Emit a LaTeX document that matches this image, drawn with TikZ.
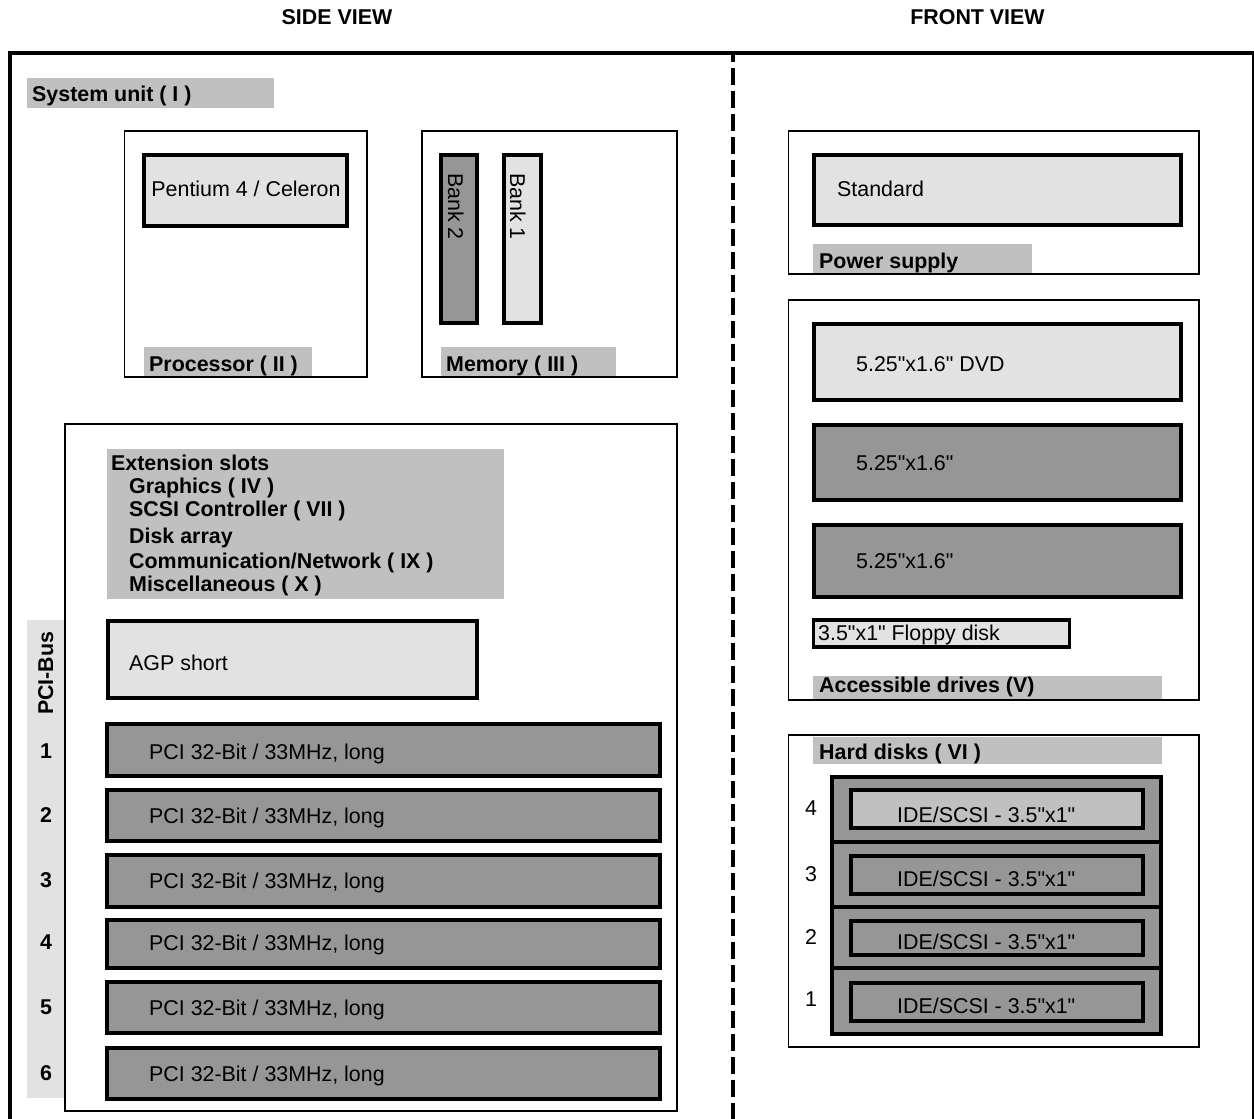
\documentclass[tikz,border=0pt]{standalone}
\usepackage{fontspec}
\setmainfont{Liberation Sans}
\newfontfamily\arialf{Liberation Sans}
\usetikzlibrary{fit}
\definecolor{lgray}{RGB}{226,226,226}
\definecolor{mgray}{RGB}{150,150,150}
\definecolor{lblgray}{RGB}{192,192,192}
\begin{document}
\begin{tikzpicture}[x=1pt,y=-1pt,
  thinbox/.style={draw=black, line width=1.7pt, inner sep=0pt},
  thickbox/.style={draw=black, line width=4.3pt, inner sep=0pt},
  lbl/.style={fill=lblgray, inner sep=0pt},
  strip/.style={fill=lgray, inner sep=0pt},
  txt/.style={font=\arialf\fontsize{21.4}{25}\selectfont, inner sep=0pt, anchor=base west},
  btxt/.style={txt, font=\arialf\fontsize{21.4}{25}\selectfont\bfseries},
  dashline/.style={line width=4.3pt, dash pattern=on 17.3pt off 5.7pt, dash phase=10.3pt}
]
\useasboundingbox (0,0) rectangle (1254,1119);

% titles
\node[btxt, anchor=base] (tside) at (337,24) {SIDE VIEW};
\node[btxt, anchor=base] (tfront) at (977.5,24) {FRONT VIEW};

% outer frame
\node[fit={(10,53) (1254.5,1140)}, draw=black, line width=4.3pt, inner sep=0pt] (frame) {};
\coordinate (dtop) at (733,55);
\coordinate (dbot) at (733,1119);
\draw[dashline] (dtop) -- (dbot);

% system unit
\node[lbl, fit={(27,78) (274,108)}] (lsys) {};
\node[btxt] (tsys) at (32,101) {System unit ( I )};

% processor
\node[thinbox, fit={(124.5,131) (367,377)}] (proc) {};
\node[thickbox, fill=lgray, fit={(144,155) (347,226)}] (pent) {};
\node[txt, anchor=base] (tpent) at (246,196) {Pentium 4 / Celeron};
\node[lbl, fit={(144,347) (312,376)}] (lproc) {};
\node[btxt] (tproc) at (149,371) {Processor ( II )};

% memory
\node[thinbox, fit={(422,131) (677,377)}] (mem) {};
\node[thickbox, fill=mgray, fit={(441,155) (477,323)}] (bank2) {};
\node[thickbox, fill=lgray, fit={(504,155) (541,323)}] (bank1) {};
\node[txt, rotate=-90] (tb2) at (448,173) {Bank 2};
\node[txt, rotate=-90] (tb1) at (510,173) {Bank 1};
\node[lbl, fit={(441,347) (616,376)}] (lmem) {};
\node[btxt] (tmem) at (446,371.5) {Memory ( III )};

% extension slots
\node[strip, fit={(27,620) (64,1098)}] (pcistrip) {};
\node[thinbox, fit={(65,424) (677,1111)}] (ext) {};
\node[lbl, fit={(107,449) (504,599)}] (lext) {};
\node[btxt] (te0) at (111,470) {Extension slots};
\node[btxt] (te1) at (129,493) {Graphics ( IV )};
\node[btxt] (te2) at (129,516) {SCSI Controller ( VII )};
\node[btxt] (te3) at (129,543) {Disk array};
\node[btxt] (te4) at (129,568) {Communication/Network ( IX )};
\node[btxt] (te5) at (129,591) {Miscellaneous ( X )};
\node[btxt, rotate=90] (tpci) at (53,715) {PCI-Bus};
\node[thickbox, fill=lgray, fit={(108,621) (477,698)}] (agp) {};
\node[txt] (tagp) at (129,670) {AGP short};
\foreach \i/\t/\b/\bl in {1/722/778/759, 2/788/843/823, 3/853/909/888, 4/918/970/950, 5/980/1035/1015, 6/1046/1101/1081}{
  \node[thickbox, fill=mgray, fit={({107},{\t+2}) ({660},{\b-2})}] (pci\i) {};
  \node[txt] (tpci\i) at (149,\bl) {PCI 32-Bit / 33MHz, long};
  \node[btxt, anchor=base] (num\i) at (46,{\bl-1}) {\i};
}

% power supply
\node[thinbox, fit={(788.5,131) (1199,274)}] (ps) {};
\node[thickbox, fill=lgray, fit={(814,155) (1181,225)}] (std) {};
\node[txt] (tstd) at (837,196) {Standard};
\node[lbl, fit={(813,244) (1032,273)}] (lps) {};
\node[btxt] (tps) at (819,268) {Power supply};

% accessible drives
\node[thinbox, fit={(788.5,300) (1199,700)}] (acc) {};
\node[thickbox, fill=lgray, fit={(814,324) (1181,400)}] (dvd) {};
\node[txt] (tdvd) at (856,371) {5.25"x1.6" DVD};
\node[thickbox, fill=mgray, fit={(814,425) (1181,500)}] (drv2) {};
\node[txt] (tdrv2) at (856,470.5) {5.25"x1.6"};
\node[thickbox, fill=mgray, fit={(814,525) (1181,597)}] (drv3) {};
\node[txt] (tdrv3) at (856,568) {5.25"x1.6"};
\node[draw=black, line width=3.5pt, fill=lgray, inner sep=0pt, fit={(813.5,620) (1069.5,647)}] (floppy) {};
\node[txt] (tfloppy) at (818,640) {3.5"x1" Floppy disk};
\node[lbl, fit={(813,676) (1162,699)}] (lacc) {};
\node[btxt] (tacc) at (819,692) {Accessible drives (V)};

% hard disks
\node[thinbox, fit={(788.5,735) (1199,1047)}] (hd) {};
\node[lbl, fit={(813,737) (1162,764)}] (lhd) {};
\node[btxt] (thd) at (819,759) {Hard disks ( VI )};
\foreach \i/\t/\b/\it/\ib/\bl/\nb/\f in {4/777/842/790/828/822/815/lblgray, 3/842/907/856/894/886.7/881/mgray, 2/907/968/921/955/949/944/mgray, 1/968/1034/983/1021/1013/1006/mgray}{
  \node[thickbox, fill=mgray, fit={(832,\t) (1161,\b)}] (tray\i) {};
  \node[thickbox, line width=4pt, fill=\f, fit={(851,\it) (1143,\ib)}] (disk\i) {};
  \node[txt] (tdisk\i) at (897,\bl) {IDE/SCSI - 3.5"x1"};
  \node[txt, anchor=base] (hnum\i) at (811,\nb) {\i};
}
\end{tikzpicture}
\end{document}
